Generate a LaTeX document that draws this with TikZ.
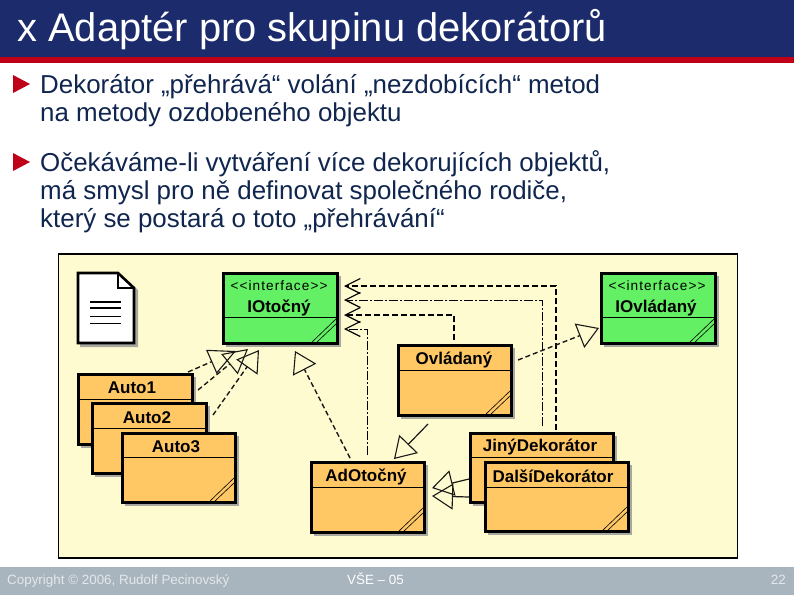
\documentclass[tikz,border=0pt]{standalone}
\usepackage{fontspec}
\setmainfont{Liberation Sans}
\usetikzlibrary{arrows.meta,calc,shadows}
\definecolor{navy}{HTML}{1B2B6B}
\definecolor{barred}{HTML}{C00018}
\definecolor{bodyblue}{HTML}{10264F}
\definecolor{footbg}{HTML}{A8B4BE}
\definecolor{foottxt}{HTML}{E4E8EA}
\definecolor{panelbg}{HTML}{FFFBD0}
\definecolor{classor}{HTML}{FFC864}
\definecolor{ifgreen}{HTML}{64F064}
\definecolor{shadowc}{HTML}{A8A8A0}
\tikzset{
  x=1pt,y=-1pt,
  bodytext/.style={anchor=base west,inner sep=0pt,text=bodyblue,font=\fontsize{25.9}{28}\selectfont},
  foottext/.style={inner sep=0pt,text=foottxt,font=\fontsize{13.4}{15}\selectfont},
  classbox/.style={draw=black,line width=2.6pt,inner sep=0pt,drop shadow={shadow xshift=3pt,shadow yshift=-3pt,fill=shadowc,opacity=1}},
  classname/.style={inner sep=0pt,font=\bfseries\fontsize{17}{19}\selectfont},
  stereo/.style={inner sep=0pt,font=\fontsize{13.6}{15}\selectfont\addfontfeatures{LetterSpace=8}},
  dep/.style={line width=1.3pt,draw=black,-{Straight Barb[length=15pt,width=15pt,line width=1.2pt]}},
  real/.style={line width=1.4pt,draw=black!90,dash pattern=on 5pt off 3pt,-{Triangle[open,length=#1,width=26pt,line width=1.1pt]}},
  real/.default=21pt,
  inherit/.style={line width=1.2pt,draw=black!90,-{Triangle[open,length=21pt,width=26pt,line width=1.1pt]}},
}
% name, x0, y0, width, height, divider offset, fill
\newcommand{\UmlBox}[7]{%
  \node[classbox,fill=#7,anchor=north west,minimum width=#4pt-1.6pt,minimum height=#5pt-1.6pt] (#1) at (#2,#3) {};
  \draw[line width=1pt] ($(#1.north west)+(0,#6)$) -- ($(#1.north east)+(0,#6)$);
  \draw[line width=.6pt] ($(#1.south east)+(-28,-2)$) -- ($(#1.south east)+(-2,-27)$);
  \draw[line width=.6pt] ($(#1.south east)+(-23,-2)$) -- ($(#1.south east)+(-2,-22)$);
}
\begin{document}
\begin{tikzpicture}
\useasboundingbox (0,0) rectangle (794,595);
\fill[white] (0,0) rectangle (794,595);
% header
\fill[navy] (0,0) rectangle (794,57);
\fill[barred] (0,57) rectangle (794,63);
\node[anchor=base west,inner sep=0pt,text=white,font=\fontsize{39.9}{44}\selectfont] (title) at (17,41) {x Adaptér pro skupinu dekorátorů};
% bullets
\fill[barred] (13,75) -- (30,84) -- (13,93) -- cycle;
\fill[barred] (13,153) -- (30,162) -- (13,171) -- cycle;
\node[bodytext] (l1) at (40,93) {Dekorátor „přehrává“ volání „nezdobících“ metod};
\node[bodytext] (l2) at (40,121) {na metody ozdobeného objektu};
\node[bodytext] (l3) at (40,171) {Očekáváme-li vytváření více dekorujících objektů,};
\node[bodytext] (l4) at (40,199) {má smysl pro ně definovat společného rodiče,};
\node[bodytext] (l5) at (40,227) {který se postará o toto „přehrávání“};
% panel
\node[draw=black,line width=1.6pt,fill=panelbg,anchor=north west,minimum width=679pt,minimum height=304pt,inner sep=0pt] (panel) at (57.5,253) {};
% note
\fill[shadowc] (80,275) -- (121,275) -- (138,290) -- (138,347) -- (80,347) -- cycle;
\draw[line width=2.6pt,fill=white,line join=miter] (78,273) -- (118,273) -- (134,288) -- (134,343) -- (78,343) -- cycle;
\draw[line width=2.2pt] (118,273) -- (118,288) -- (134,288);
\draw[line width=1.2pt] (90,302) -- (121,302);
\draw[line width=1.1pt] (90,308) -- (121,308);
\draw[line width=.8pt] (90,316) -- (121,316);
\draw[line width=.6pt] (90,323) -- (121,323);
% connector coordinates
\coordinate (iot1) at (344,286);
\coordinate (iot2) at (344,300);
\coordinate (iot3) at (344,315);
\coordinate (iot4) at (344,329);
\coordinate (ja) at (556,430);
\coordinate (da) at (542,426);
\coordinate (ov) at (454,340);
\coordinate (ad) at (367,455);
\coordinate (a1s) at (188,372);
\coordinate (a1t) at (236,351);
\coordinate (a2s) at (198,390);
\coordinate (a2t) at (248,349);
\coordinate (a3s) at (213,415);
\coordinate (a3t) at (259,350);
\coordinate (ads) at (350,458);
\coordinate (adt) at (295,351);
\coordinate (ovs) at (518,360);
\coordinate (ovt) at (599,328);
\coordinate (oas) at (428,424);
\coordinate (oat) at (394,459);
\coordinate (jis) at (469,479);
\coordinate (jit) at (432,488);
\coordinate (das) at (469,497);
\coordinate (dat) at (432,496);
% dependency lines
\draw[dep,dash pattern=on 6pt off 3pt] (ja) |- (iot1);
\draw[dep,line width=.8pt,dash pattern=on 9pt off 2pt on 2pt off 2pt] (da) |- (iot2);
\draw[dep,line width=1.5pt,dash pattern=on 6pt off 3pt] (ov) |- (iot3);
\draw[dep,line width=.8pt,dash pattern=on 9pt off 2pt on 2pt off 2pt] (ad) |- (iot4);
\draw[real=27pt] (a1s) -- (a1t);
\draw[real=24pt] (a2s) -- (a2t);
\draw[real] (a3s) -- (a3t);
\draw[real] (ads) -- (adt);
\draw[real] (ovs) -- (ovt);
\draw[inherit] (oas) -- (oat);
\draw[inherit] (jis) -- (jit);
\draw[inherit] (das) -- (dat);
% classes
\UmlBox{iotocny}{222}{272}{116}{72}{45}{ifgreen}
\node[stereo] (iots) at (279,286) {{<}{<}interface{>}{>}};
\node[classname] (iotn) at (279,308) {IOtočný};
\UmlBox{iovl}{600}{272}{116}{72}{45}{ifgreen}
\node[stereo] (iovs) at (657,286) {{<}{<}interface{>}{>}};
\node[classname] (iovn) at (656,308) {IOvládaný};
\UmlBox{auto1}{77}{373}{116}{72}{26}{classor}
\node[classname] (a1n) at (132,388) {Auto1};
\UmlBox{auto2}{91}{402}{116}{72}{26}{classor}
\node[classname] (a2n) at (147,418) {Auto2};
\UmlBox{auto3}{121}{432}{115}{71}{25}{classor}
\node[classname] (a3n) at (176,447) {Auto3};
\UmlBox{ovladany}{397}{344}{115}{72}{26}{classor}
\node[classname] (ovn) at (454,360) {Ovládaný};
\UmlBox{adot}{310}{461}{115}{72}{26}{classor}
\node[classname] (adn) at (366,477) {AdOtočný};
\UmlBox{jiny}{469}{432}{145}{71}{25}{classor}
\node[classname] (jin) at (540,447) {JinýDekorátor};
\UmlBox{dalsi}{484}{461}{145}{71}{26}{classor}
\node[classname] (dan) at (553,476) {DalšíDekorátor};
% footer
\fill[footbg] (0,567) rectangle (794,595);
\node[foottext,anchor=base west] (f1) at (7,584) {Copyright © 2006, Rudolf Pecinovský};
\node[foottext,anchor=base west,text=white] (f2) at (347,584) {VŠE – 05};
\node[foottext,anchor=base east] (f3) at (786,584) {22};
\end{tikzpicture}
\end{document}
